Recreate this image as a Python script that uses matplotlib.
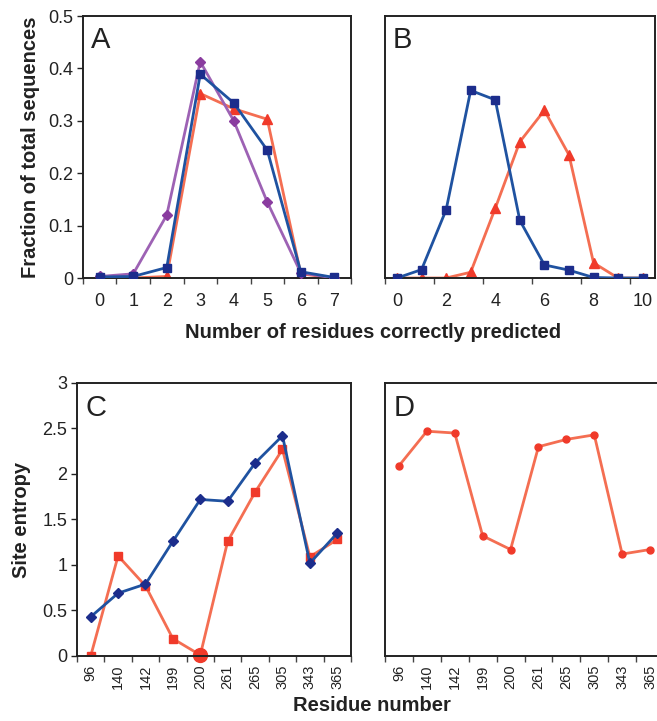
import numpy as np
import matplotlib.pyplot as plt
from matplotlib.ticker import FixedLocator

plt.rcParams['font.family'] = ['Liberation Sans', 'DejaVu Sans']

# panel A: fraction of sequences vs number correct (0-7)
a_x = np.arange(8)
a_purple = [0.003, 0.008, 0.12, 0.413, 0.30, 0.145, 0.01, 0.0]
a_blue = [0.002, 0.003, 0.02, 0.389, 0.334, 0.244, 0.012, 0.001]
a_red = [0.0, 0.0, 0.003, 0.352, 0.323, 0.303, 0.008, 0.0]

# panel B: 0-10
b_x = np.arange(11)
b_blue = [0.0, 0.016, 0.13, 0.358, 0.34, 0.11, 0.025, 0.015, 0.001, 0.0, 0.0]
b_red = [0.0, 0.0, 0.0, 0.011, 0.133, 0.26, 0.32, 0.235, 0.029, 0.0, 0.0]

# panels C and D: site entropy per residue
residues = ['96', '140', '142', '199', '200', '261', '265', '305', '343', '365']
c_blue = [0.43, 0.69, 0.79, 1.26, 1.72, 1.70, 2.12, 2.42, 1.02, 1.35]
c_red = [0.0, 1.10, 0.77, 0.19, 0.01, 1.26, 1.80, 2.27, 1.09, 1.28]
d_red = [2.09, 2.47, 2.45, 1.32, 1.17, 2.30, 2.38, 2.43, 1.12, 1.17]

BLUE_L, BLUE_M = '#1f52a0', '#1c2d8c'
RED_L, RED_M = '#f46e52', '#f03a2a'
PUR_L, PUR_M = '#9d62b4', '#8a3c9f'
TXT = '#222222'

fig = plt.figure(figsize=(6.57, 7.21), dpi=100)
axA = fig.add_axes([0.1263, 0.6144, 0.408, 0.3634])
axB = fig.add_axes([0.5855, 0.6144, 0.4114, 0.3634])
axC = fig.add_axes([0.1172, 0.0902, 0.417, 0.3786])
axD = fig.add_axes([0.586, 0.0902, 0.4247, 0.3786])

def style(ax, n, step=1, ylabels=True):
    for s in ax.spines.values():
        s.set_linewidth(1.4)
        s.set_color(TXT)
    ax.set_xlim(-0.5, n - 0.5)
    ax.xaxis.set_major_locator(FixedLocator(np.arange(0, n, step)))
    ax.xaxis.set_minor_locator(FixedLocator(np.arange(-0.5, n, step)))
    ax.tick_params(axis='x', which='major', length=0, pad=11, labelsize=13, colors=TXT)
    ax.tick_params(axis='x', which='minor', length=4, width=1, direction='out', color='#444444')
    if ylabels:
        ax.tick_params(axis='y', length=4, width=1, direction='out', labelsize=13,
                       colors=TXT, pad=3)
    else:
        ax.tick_params(axis='y', length=0, labelleft=False)

def letter(ax, s):
    ax.text(0.03, 0.96, s, transform=ax.transAxes, fontsize=21, va='top', ha='left', color=TXT)

# A
axA.plot(a_x, a_purple, color=PUR_L, lw=2, marker='D', ms=5, mfc=PUR_M, mec=PUR_M, zorder=3)
axA.plot(a_x, a_red, color=RED_L, lw=2, marker='^', ms=6.5, mfc=RED_M, mec=RED_M, zorder=2)
axA.plot(a_x, a_blue, color=BLUE_L, lw=2, marker='s', ms=5.5, mfc=BLUE_M, mec=BLUE_M, zorder=4)
axA.set_ylim(0, 0.5)
axA.set_yticks([0, 0.1, 0.2, 0.3, 0.4, 0.5])
axA.set_yticklabels(['0', '0.1', '0.2', '0.3', '0.4', '0.5'])
style(axA, 8)
axA.set_ylabel('Fraction of total sequences', fontsize=14.5, fontweight='bold',
               labelpad=6, color=TXT)
letter(axA, 'A')

# B
axB.plot(b_x, b_red, color=RED_L, lw=2, marker='^', ms=6.5, mfc=RED_M, mec=RED_M, zorder=2)
axB.plot(b_x, b_blue, color=BLUE_L, lw=2, marker='s', ms=5.5, mfc=BLUE_M, mec=BLUE_M, zorder=3)
axB.set_ylim(0, 0.5)
style(axB, 11, step=2, ylabels=False)
letter(axB, 'B')

fig.text(0.568, 0.539, 'Number of residues correctly predicted', fontsize=14.5,
         fontweight='bold', ha='center', va='center', color=TXT)

# C
cx = np.arange(len(residues))
axC.plot(cx, c_red, color=RED_L, lw=2, marker='s', ms=5.5, mfc=RED_M, mec=RED_M, zorder=2)
axC.plot(cx[4:5], c_red[4:5], ls='none', marker='o', ms=10, mfc=RED_M, mec=RED_M, zorder=2,
         clip_on=False)
axC.plot(cx, c_blue, color=BLUE_L, lw=2, marker='D', ms=5, mfc=BLUE_M, mec=BLUE_M, zorder=3)
axC.set_ylim(0, 3)
axC.set_yticks([0, 0.5, 1, 1.5, 2, 2.5, 3])
axC.set_yticklabels(['0', '0.5', '1', '1.5', '2', '2.5', '3'])
style(axC, len(residues))
axC.set_xticklabels(residues, rotation=90)
axC.tick_params(axis='x', which='major', pad=6, labelsize=10.5)
axC.set_ylabel('Site entropy', fontsize=14.5, fontweight='bold', labelpad=8, color=TXT)
letter(axC, 'C')

# D
axD.plot(cx, d_red, color=RED_L, lw=2, marker='o', ms=5, mfc=RED_M, mec=RED_M)
axD.set_ylim(0, 3)
style(axD, len(residues), ylabels=False)
axD.set_xticklabels(residues, rotation=90)
axD.tick_params(axis='x', which='major', pad=6, labelsize=10.5)
letter(axD, 'D')

fig.text(0.566, 0.021, 'Residue number', fontsize=14.5, fontweight='bold',
         ha='center', va='center', color=TXT)

fig.savefig('out.png', dpi=100)
